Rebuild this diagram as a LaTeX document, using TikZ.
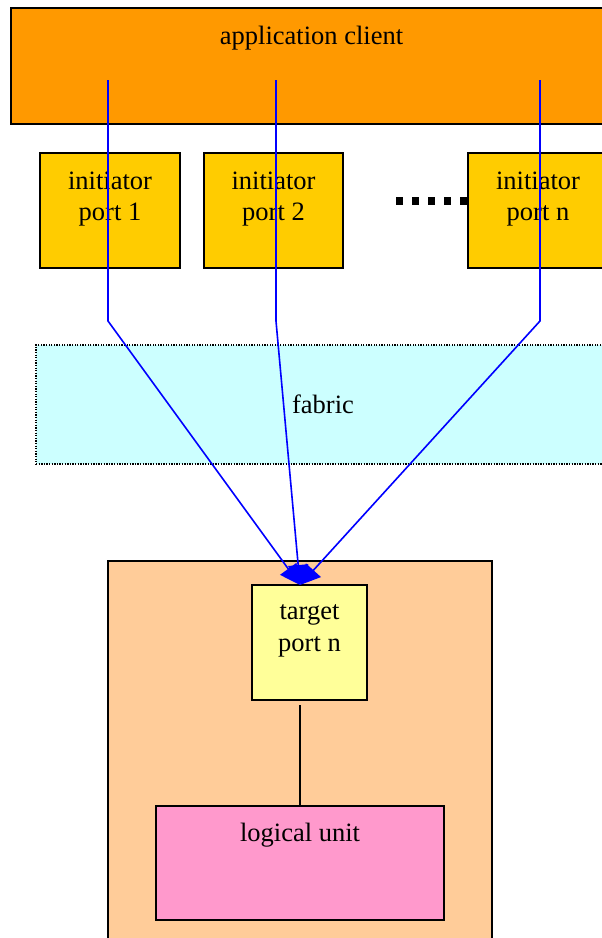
\documentclass[tikz,border=0pt]{standalone}
\usepackage{fontspec}
\setmainfont{Liberation Serif}
\usetikzlibrary{arrows.meta}
\definecolor{appc}{HTML}{FF9900}
\definecolor{initc}{HTML}{FFCC00}
\definecolor{fabc}{HTML}{CCFFFF}
\definecolor{outc}{HTML}{FFCC99}
\definecolor{targc}{HTML}{FFFF99}
\definecolor{luc}{HTML}{FF99CC}
\definecolor{linkc}{HTML}{0000FF}
\tikzset{
  boxn/.style={draw=black, line width=1.6pt, rectangle, inner sep=0pt, outer sep=0pt, anchor=north west},
  fabn/.style={draw=black, line width=1.2pt, dash pattern=on 1.3pt off 1.3pt, rectangle, inner sep=0pt, outer sep=0pt, anchor=north west},
  lbl/.style={inner sep=0pt, anchor=base, font=\fontsize{26.5}{31.7}\selectfont},
  link/.style={draw=linkc, line width=1.6pt, -{Triangle[length=20pt,width=20pt]}},
  dots/.style={draw=black, line width=7.3pt, dash pattern=on 7.3pt off 8.7pt},
}
\begin{document}
\begin{tikzpicture}[x=1pt,y=-1pt]
\clip (0,0) rectangle (602,938);
\useasboundingbox (0,0) rectangle (602,938);
% boxes
\node[boxn, fill=appc, minimum width=601pt, minimum height=116pt] (app) at (11,8) {};
\node[lbl] (apptxt) at (311.5,44.3) {application client};

\coordinate (d1) at (396,201);
\coordinate (d2) at (470,201);
\draw[dots] (d1) -- (d2);

\node[boxn, fill=initc, minimum width=140pt, minimum height=115pt] (ip1) at (40,153) {};
\node[boxn, fill=initc, minimum width=139pt, minimum height=115pt] (ip2) at (204,153) {};
\node[boxn, fill=initc, minimum width=140pt, minimum height=115pt] (ipn) at (468,153) {};
\node[lbl] (ip1a) at (110,189.3) {initiator};
\node[lbl] (ip1b) at (110,220) {port 1};
\node[lbl] (ip2a) at (273.5,189.3) {initiator};
\node[lbl] (ip2b) at (273.5,220) {port 2};
\node[lbl] (ipna) at (538,189.3) {initiator};
\node[lbl] (ipnb) at (538,220) {port n};

\node[fabn, fill=fabc, minimum width=574pt, minimum height=119pt] (fab) at (36,345) {};
\node[lbl] (fabtxt) at (323,413) {fabric};

\node[boxn, fill=outc, minimum width=384pt, minimum height=420pt] (outer) at (108,561) {};
\node[boxn, fill=targc, minimum width=115pt, minimum height=115pt] (targ) at (252,585) {};
\node[lbl] (targa) at (309.5,619.3) {target};
\node[lbl] (targb) at (309.5,651) {port n};
\node[boxn, fill=luc, minimum width=288pt, minimum height=114pt] (lu) at (156,806) {};
\node[lbl] (lutxt) at (300,841) {logical unit};

\coordinate (tb) at (300,705);
\draw[line width=1.5pt] (tb) -- (lu.north);

% links
\coordinate (s1) at (108,80);
\coordinate (b1) at (108,321);
\coordinate (s2) at (276,80);
\coordinate (b2) at (276,321);
\coordinate (s3) at (540,80);
\coordinate (b3) at (540,321);
\coordinate (tip) at (300,585);
\draw[link] (s1) -- (b1) -- (tip);
\draw[link] (s2) -- (b2) -- (tip);
\draw[link] (s3) -- (b3) -- (tip);
\end{tikzpicture}
\end{document}
